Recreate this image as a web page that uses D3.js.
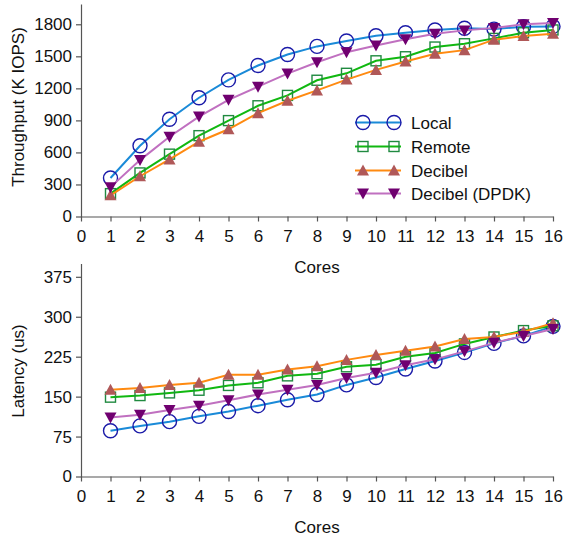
<!DOCTYPE html>
<html><head><meta charset="utf-8">
<script src="https://cdn.jsdelivr.net/npm/d3@7"></script>
<style>body{margin:0;background:#fff}svg{display:block}text{font-family:"Liberation Sans",Arial,Helvetica,sans-serif;fill:#111}</style>
</head><body>
<svg id="c" width="564" height="540"></svg>
<script>
const cores = [1,2,3,4,5,6,7,8,9,10,11,12,13,14,15,16];
const xTicks = [0,1,2,3,4,5,6,7,8,9,10,11,12,13,14,15,16];
const tputTicks = [0,300,600,900,1200,1500,1800];
const latTicks = [0,75,150,225,300,375];
const seriesNames = ["Local","Remote","Decibel","Decibel (DPDK)"];

const tputLocal  = [361,663,911,1112,1279,1414,1517,1593,1643,1693,1721,1747,1763,1755,1778,1780];
const tputRemote = [214,408,584,757,898,1037,1134,1276,1341,1458,1496,1587,1618,1668,1721,1747];
const tputDecibel= [198,377,534,700,817,968,1084,1181,1282,1373,1451,1524,1558,1656,1691,1712];
const tputDPDK   = [275,528,747,936,1093,1216,1338,1445,1539,1602,1659,1712,1743,1765,1800,1812];

const latLocal   = [86,95,103,113,122,133,144,154,172,186,202,217,233,250,264,282];
const latRemote  = [149,152,157,162,171,176,189,193,206,210,225,232,249,262,274,283];
const latDecibel = [163,166,172,176,191,191,201,207,219,228,236,244,258,262,272,288];
const latDPDK    = [111,116,125,133,143,154,163,172,185,195,209,220,235,251,264,277];

const styles = [
  {line:"#1a8ad8", mk:"circle", stroke:"#1a1aa8", fill:"none"},
  {line:"#10b810", mk:"square", stroke:"#208a40", fill:"none"},
  {line:"#ff8a10", mk:"up", stroke:"none", fill:"#b05858"},
  {line:"#c070c0", mk:"down", stroke:"none", fill:"#700070"}
];

const svg = d3.select("#c");
const x = d3.scaleLinear().domain([0,16]).range([81,553]);

function marker(g, type, st, cx, cy){
  if(type==="circle"){
    g.append("circle").attr("cx",cx).attr("cy",cy).attr("r",7)
     .attr("fill","none").attr("stroke",st.stroke).attr("stroke-width",1.4);
  } else if(type==="square"){
    g.append("rect").attr("x",cx-5).attr("y",cy-5).attr("width",10).attr("height",10)
     .attr("fill","none").attr("stroke",st.stroke).attr("stroke-width",1.4);
  } else if(type==="up"){
    g.append("path").attr("d",`M${cx-6},${cy+5}L${cx+6},${cy+5}L${cx},${cy-6}Z`).attr("fill",st.fill);
  } else {
    g.append("path").attr("d",`M${cx-6},${cy-5}L${cx+6},${cy-5}L${cx},${cy+6}Z`).attr("fill",st.fill);
  }
}

function panel(y, ticks, data, titleY, ylabel, ylabelY){
  const gx = svg.append("g").attr("transform",`translate(0,${y.range()[0]})`)
    .call(d3.axisBottom(x).tickValues(xTicks).tickFormat(d3.format("d")).tickSize(5).tickPadding(8).tickSizeOuter(0));
  const gy = svg.append("g").attr("transform","translate(81,0)")
    .call(d3.axisLeft(y).tickValues(ticks).tickFormat(d3.format("d")).tickSize(5).tickPadding(4).tickSizeOuter(0));
  [gx,gy].forEach(g=>{
    g.selectAll("path,line").attr("stroke","#555").attr("stroke-width",1.2);
    g.selectAll("text").attr("font-size",17).attr("fill","#111")
     .attr("font-family","Liberation Sans, Arial, sans-serif");
  });
  svg.append("text").attr("x",317).attr("y",titleY).attr("text-anchor","middle")
    .attr("font-size",17).text("Cores");
  svg.append("text").attr("transform",`translate(24,${ylabelY}) rotate(-90)`)
    .attr("text-anchor","middle").attr("font-size",17).text(ylabel);
  const line = d3.line().x((d,i)=>x(cores[i])).y(d=>y(d));
  data.forEach((vals,si)=>{
    const st = styles[si];
    const g = svg.append("g");
    g.append("path").attr("d",line(vals)).attr("fill","none")
      .attr("stroke",st.line).attr("stroke-width",2);
    vals.forEach((v,i)=>marker(g, st.mk, st, x(cores[i]), y(v)));
  });
}

const yT = d3.scaleLinear().domain([0,1990]).range([216.5,4]);
const yL = d3.scaleLinear().domain([0,400]).range([476.5,263.5]);

panel(yT, tputTicks, [tputLocal,tputRemote,tputDecibel,tputDPDK], 273, "Throughput (K IOPS)", 107);
panel(yL, latTicks, [latLocal,latRemote,latDecibel,latDPDK], 533, "Latency (us)", 371);

// legend
const lg = svg.append("g");
const rows = [122.5,146.5,170.5,193.5];
seriesNames.forEach((n,i)=>{
  const st = styles[i];
  lg.append("line").attr("x1",355).attr("x2",401).attr("y1",rows[i]).attr("y2",rows[i])
    .attr("stroke",st.line).attr("stroke-width",2);
  marker(lg, st.mk, st, 363, rows[i]);
  marker(lg, st.mk, st, 394, rows[i]);
  lg.append("text").attr("x",411).attr("y",rows[i]+6).attr("font-size",17).text(n);
});
</script>
</body></html>
